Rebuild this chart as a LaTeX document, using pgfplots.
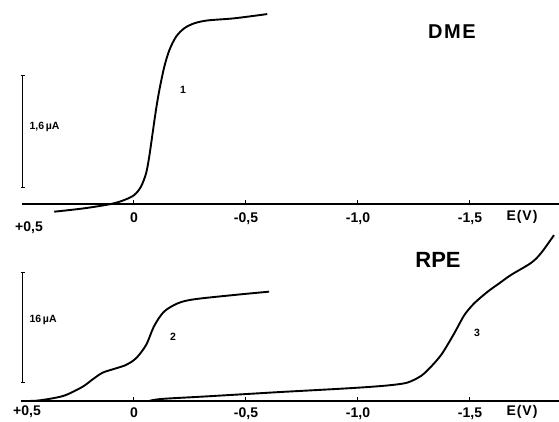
\documentclass[border=0pt]{standalone}
\usepackage{pgfplots}
\pgfplotsset{compat=1.18}
\usetikzlibrary{arrows.meta}
\usepackage{fontspec}
\setmainfont{Liberation Sans}
\begin{document}
\begin{tikzpicture}[x=1pt,y=1pt]
\useasboundingbox (0,0) rectangle (559,421);
\pgfplotsset{
  panel/.style={
    scale only axis, width=537.6pt, x dir=reverse,
    xmin=-1.9, xmax=0.5, ymin=0,
    axis x line=bottom, axis y line=none,
    axis line style={line width=1.3pt, -},
    tick align=inside, major tick length=4pt,
    tick style={black, line width=1pt},
    xtick={0,-0.5,-1,-1.5},
    xticklabels={0,-0{,}5,-1{,}0,-1{,}5},
    /pgf/number format/assume math mode=true,
    clip=false,
  }
}
% ---------- DME ----------
\begin{axis}[panel, at={(22pt,217pt)}, anchor=south west,
  height=197.7pt, ymax=2.8,
  xticklabel style={font=\fontsize{14}{14}\selectfont\bfseries, anchor=base, yshift=-18.5pt}]
\addplot[black, line width=1.9pt, smooth] coordinates {
(0.356,-0.109) (0.222,-0.061) (0.103,0) (0.043,0.057) (-0.001,0.127)
(-0.031,0.245) (-0.054,0.435) (-0.068,0.67) (-0.083,1.0) (-0.098,1.33)
(-0.113,1.61) (-0.135,1.94) (-0.158,2.18) (-0.188,2.37) (-0.225,2.49)
(-0.270,2.56) (-0.329,2.60) (-0.448,2.63) (-0.595,2.69)};
\draw[line width=1.3pt, {Bar[width=4pt]}-{Bar[width=4pt]}] (axis cs:0.497,0.227) -- (axis cs:0.497,1.827);
\end{axis}
% ---------- RPE ----------
\begin{axis}[panel, at={(22pt,20pt)}, anchor=south west,
  height=166.6pt, ymax=24,
  xticklabel style={font=\fontsize{14}{14}\selectfont\bfseries, anchor=base, yshift=-16pt}]
\addplot[black, line width=1.9pt, smooth, tension=0.5] coordinates {
(0.504,0) (0.4375,0.04) (0.363,0.39) (0.304,0.86) (0.229,2.06)
(0.184,3.13) (0.140,4.08) (0.080,4.71) (0.036,5.19) (-0.009,6.15)
(-0.054,8.07) (-0.09,10.8) (-0.134,12.87) (-0.196,14.08)
(-0.268,14.65) (-0.446,15.27) (-0.603,15.75)};
\addplot[black, line width=1.9pt, smooth, tension=0.5] coordinates {
(-0.067,0) (-0.12,0.29) (-0.299,0.62) (-0.5,1.0) (-0.656,1.3) (-0.8,1.55) (-0.955,1.83)
(-1.06,2.05) (-1.15,2.3) (-1.22,2.65) (-1.281,3.6) (-1.326,4.94)
(-1.371,6.63) (-1.408,8.54) (-1.438,10.23) (-1.475,12.39) (-1.519,14.08)
(-1.579,15.75) (-1.631,16.96) (-1.683,18.16) (-1.772,19.88) (-1.817,21.3)
(-1.875,23.9)};
\draw[line width=1.3pt, {Bar[width=4pt]}-{Bar[width=4pt]}] (axis cs:0.497,2.6) -- (axis cs:0.497,18.6);
\end{axis}
% ---------- texts ----------
\node[font=\fontsize{14}{14}\selectfont\bfseries] at (29,193) {+0,5};
\node[font=\fontsize{14}{14}\selectfont\bfseries] at (27,9) {+0,5};
\node[font=\fontsize{14}{14}\selectfont\bfseries] at (522,204) {E\kern1pt(\kern1pt V\kern1pt)};
\node[font=\fontsize{14}{14}\selectfont\bfseries] at (522,9) {E\kern1pt(\kern1pt V\kern1pt)};
\node[font=\fontsize{20}{20}\selectfont\bfseries\addfontfeature{LetterSpace=8}] at (452,389) {DME};
\node[font=\fontsize{22}{22}\selectfont\bfseries] at (438,161) {RPE};
\node[font=\fontsize{10.5}{10}\selectfont\bfseries, anchor=west] at (26,294) {1,6\,µA};
\node[font=\fontsize{10.5}{10}\selectfont\bfseries, anchor=west] at (26,101) {16\,µA};
\node[font=\fontsize{10.5}{10}\selectfont\bfseries] at (183,331) {1};
\node[font=\fontsize{10.5}{10}\selectfont\bfseries] at (173,84) {2};
\node[font=\fontsize{10.5}{10}\selectfont\bfseries] at (477,88) {3};
\end{tikzpicture}
\end{document}
